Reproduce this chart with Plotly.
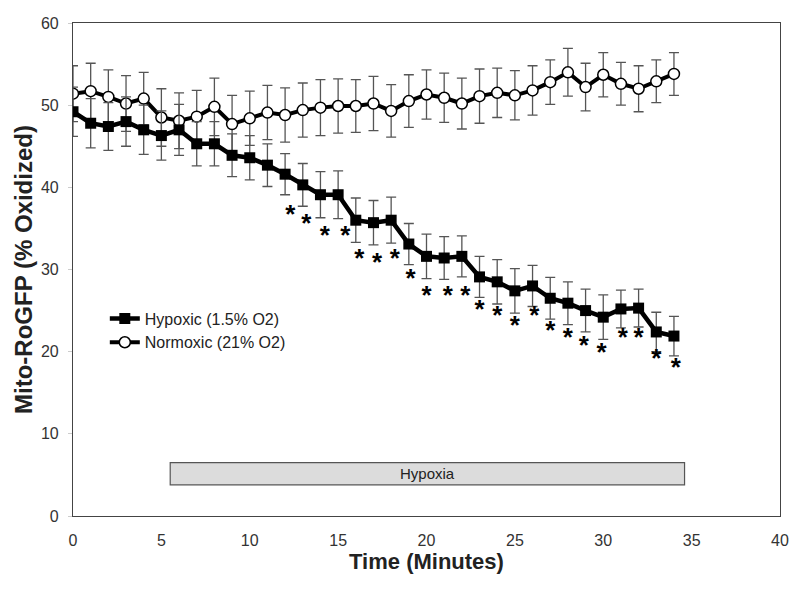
import plotly.graph_objects as go

# values
time = list(range(0, 35))

hypoxic = [49.2, 47.8, 47.4, 48.0, 47.0, 46.3, 47.0, 45.3, 45.3, 43.9,
           43.6, 42.7, 41.6, 40.3, 39.1, 39.1, 36.0, 35.7, 36.0, 33.1,
           31.6, 31.4, 31.6, 29.1, 28.5, 27.4, 28.0, 26.5, 25.9, 25.0,
           24.2, 25.2, 25.3, 22.4, 21.9]
hypoxic_err = [3.0, 3.0, 2.9, 3.0, 3.0, 3.0, 3.1, 2.7, 2.7, 2.6,
               2.7, 2.6, 2.5, 2.6, 2.8, 2.9, 2.7, 2.7, 2.8, 2.5,
               2.7, 2.6, 2.5, 2.5, 2.7, 2.7, 2.5, 2.55, 2.6, 2.6,
               2.7, 2.3, 2.3, 2.4, 2.4]

normoxic = [51.4, 51.7, 51.0, 50.2, 50.8, 48.5, 48.1, 48.6, 49.8, 47.7,
            48.4, 49.1, 48.8, 49.4, 49.7, 49.9, 49.9, 50.2, 49.3, 50.5,
            51.3, 50.9, 50.2, 51.1, 51.5, 51.2, 51.8, 52.8, 54.0, 52.2,
            53.7, 52.6, 52.0, 52.9, 53.8]
normoxic_err = [3.4, 3.4, 3.3, 3.4, 3.2, 3.5, 3.4, 3.2, 3.5, 3.5,
                3.3, 3.3, 3.3, 3.3, 3.4, 3.3, 3.2, 3.3, 3.2, 3.2,
                3.0, 3.0, 3.1, 3.3, 3.0, 3.0, 3.0, 2.7, 2.9, 2.9,
                2.7, 2.6, 2.8, 2.6, 2.6]

# significance marks (*) under the hypoxic curve
sig_x = [12.3, 13.2, 14.25, 15.4, 16.2, 17.2, 18.2, 19.1, 20.0, 21.2,
         22.2, 23.0, 24.0, 25.0, 26.1, 27.0, 28.0, 28.9, 29.9, 31.1,
         32.0, 33.0, 34.1]
sig_y = [37.1, 35.9, 34.5, 34.5, 31.7, 31.2, 31.7, 29.3, 27.2, 27.2,
         27.2, 25.5, 24.8, 23.6, 24.8, 22.9, 22.1, 21.1, 20.3, 22.1,
         22.1, 19.5, 18.4]

hypoxia_start, hypoxia_end = 5.5, 34.6
hypoxia_low, hypoxia_high = 3.8, 6.5

FONT = "Liberation Sans, Arial, sans-serif"
ERR_COLOR = "#555555"
# the "*" glyph sits high in its text box, nudge it down so it centres on the value
STAR_NUDGE = 0.6

fig = go.Figure()

fig.add_trace(go.Scatter(
    x=time, y=normoxic, name="Normoxic (21% O2)",
    mode="lines+markers",
    line=dict(color="black", width=4),
    marker=dict(symbol="circle", size=11, color="white",
                line=dict(color="black", width=1.5)),
    error_y=dict(type="data", array=normoxic_err, color=ERR_COLOR,
                 thickness=1.3, width=5),
))

fig.add_trace(go.Scatter(
    x=time, y=hypoxic, name="Hypoxic (1.5% O2)",
    mode="lines+markers",
    line=dict(color="black", width=4.5),
    marker=dict(symbol="square", size=11, color="black"),
    error_y=dict(type="data", array=hypoxic_err, color=ERR_COLOR,
                 thickness=1.3, width=5),
))

fig.add_trace(go.Scatter(
    x=sig_x, y=[v - STAR_NUDGE for v in sig_y],
    mode="text", text=["*"] * len(sig_x),
    textposition="middle center",
    textfont=dict(family=FONT, size=26, color="black", weight="bold"),
    showlegend=False, hoverinfo="skip",
))

# hypoxia period bar
fig.add_shape(type="rect", xref="x", yref="y",
              x0=hypoxia_start, x1=hypoxia_end, y0=hypoxia_low, y1=hypoxia_high,
              fillcolor="#dcdcdc", line=dict(color="#555555", width=1.2),
              layer="below")
fig.add_annotation(x=(hypoxia_start + hypoxia_end) / 2,
                   y=(hypoxia_low + hypoxia_high) / 2,
                   text="Hypoxia", showarrow=False,
                   font=dict(family=FONT, size=15, color="#222222"))

fig.update_layout(
    width=800, height=593,
    margin=dict(l=73, r=20, t=23, b=77),
    paper_bgcolor="white", plot_bgcolor="white",
    font=dict(family=FONT, color="#333333"),
    legend=dict(x=0.045, y=0.435, xanchor="left", yanchor="top",
                traceorder="reversed", bgcolor="rgba(0,0,0,0)",
                font=dict(family=FONT, size=16, color="#222222"),
                itemwidth=30, tracegroupgap=0),
)

fig.update_xaxes(
    range=[0, 40], dtick=5, showgrid=False, zeroline=False,
    showline=True, linecolor="#444444", linewidth=1.2, mirror=True,
    ticks="", ticklabelstandoff=10, automargin=False,
    tickfont=dict(family=FONT, size=16, color="#333333"),
    title=dict(text="<b>Time (Minutes)</b>", standoff=4,
               font=dict(family=FONT, size=22, color="#222222")),
)
fig.update_yaxes(
    range=[0, 60], dtick=10, showgrid=False, zeroline=False,
    showline=True, linecolor="#444444", linewidth=1.2, mirror=True,
    ticks="outside", ticklen=4, tickcolor="#cccccc", ticklabelstandoff=6,
    automargin=False,
    tickfont=dict(family=FONT, size=16, color="#333333"),
    title=dict(text="<b>Mito-RoGFP (% Oxidized)</b>", standoff=1,
               font=dict(family=FONT, size=24, color="#222222")),
)

# drop the browser's default body margin so the figure sits at the page corner
fig.write_html("out.html", config={"displayModeBar": False},
               post_script="document.body.style.margin='0';")
